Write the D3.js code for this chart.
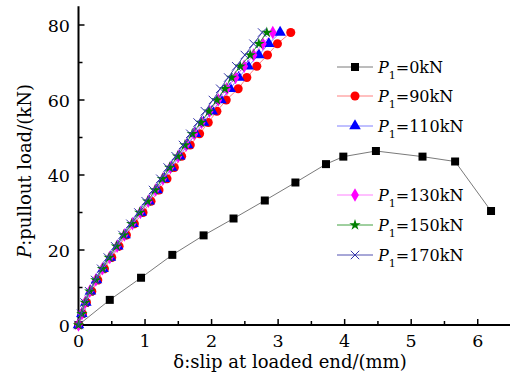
<!DOCTYPE html>
<html>
<head>
<meta charset="utf-8">
<script src="https://cdn.jsdelivr.net/npm/d3@7"></script>
<style>
body { margin: 0; background: #fff; }
</style>
</head>
<body>
<svg id="chart" width="510" height="385"></svg>
<script>
// P1 = 0kN series
const slip0 = [0, 0.47, 0.94, 1.41, 1.88, 2.33, 2.80, 3.26, 3.72, 3.98, 4.47, 5.17, 5.66, 6.20]
const load0 = [0, 6.7, 12.6, 18.7, 23.9, 28.4, 33.2, 38.0, 42.9, 44.9, 46.4, 44.9, 43.6, 30.4]

// loads shared by the other series
const loads = [0, 3, 6, 9, 12, 15, 18, 21, 24, 27, 30, 33, 36, 39, 42, 45, 48, 51, 54, 57, 60, 63, 66, 69, 72, 75, 78]
const slip90 = [0, 0.06, 0.12, 0.20, 0.29, 0.39, 0.50, 0.61, 0.72, 0.84, 0.97, 1.09, 1.21, 1.33, 1.44, 1.55, 1.68, 1.82, 1.95, 2.08, 2.22, 2.40, 2.53, 2.68, 2.84, 2.99, 3.19]
const slip110 = [0, 0.05, 0.11, 0.18, 0.27, 0.37, 0.48, 0.59, 0.70, 0.82, 0.94, 1.06, 1.18, 1.29, 1.40, 1.52, 1.64, 1.76, 1.88, 2.01, 2.14, 2.28, 2.41, 2.55, 2.71, 2.86, 3.03]
const slip130 = [0, 0.05, 0.10, 0.17, 0.26, 0.36, 0.47, 0.58, 0.69, 0.81, 0.93, 1.05, 1.16, 1.27, 1.38, 1.50, 1.62, 1.74, 1.85, 1.97, 2.10, 2.23, 2.36, 2.49, 2.63, 2.77, 2.92]
const slip150 = [0, 0.05, 0.10, 0.17, 0.26, 0.36, 0.46, 0.57, 0.68, 0.80, 0.92, 1.04, 1.15, 1.26, 1.37, 1.49, 1.60, 1.71, 1.84, 1.96, 2.08, 2.20, 2.30, 2.43, 2.58, 2.71, 2.83]
const slip170 = [0, 0.04, 0.09, 0.16, 0.25, 0.34, 0.44, 0.55, 0.66, 0.78, 0.90, 1.01, 1.12, 1.23, 1.34, 1.46, 1.57, 1.68, 1.79, 1.90, 2.02, 2.13, 2.25, 2.37, 2.50, 2.63, 2.76]

const legendLabels = ['=0kN', '=90kN', '=110kN', '=130kN', '=150kN', '=170kN']
const xTicks = [0, 1, 2, 3, 4, 5, 6]
const yTicks = [0, 20, 40, 60, 80]

// Liberation Serif isn't picked up by the renderer, DejaVu Serif is
const FONT = "'DejaVu Serif', 'Liberation Serif', serif"

const series = [
	{ xs: slip0, ys: load0, line: '#7a7a7a', fill: '#000', shape: d3.symbolSquare, size: 64 },
	{ xs: slip90, ys: loads, line: '#ff8080', fill: '#ff0000', shape: d3.symbolCircle, size: 64 },
	{ xs: slip110, ys: loads, line: '#8080ff', fill: '#0000ff', shape: d3.symbolTriangle, size: 58 },
	{ xs: slip130, ys: loads, line: '#ff80ff', fill: '#ff00ff', shape: d3.symbolDiamond, size: 52 },
	{ xs: slip150, ys: loads, line: '#40a040', fill: '#007f00', shape: d3.symbolStar, size: 40 },
	{ xs: slip170, ys: loads, line: '#5050b0', fill: 'none', stroke: '#3333aa', shape: d3.symbolTimes, size: 48 }
]

const svg = d3.select('#chart').style('font-family', FONT)
const x = d3.scaleLinear().domain([0, 6.5]).range([78.5, 511])
const y = d3.scaleLinear().domain([0, 85]).range([325, 6.25])

// axes
const xAxis = svg.append('g')
xAxis.append('line')
	.attr('x1', x(0) - 1).attr('x2', 510).attr('y1', y(0)).attr('y2', y(0))
	.attr('stroke', '#000').attr('stroke-width', 2)
xAxis.selectAll('.tk').data(d3.range(0, 6.51, 0.5)).join('line')
	.attr('x1', d => x(d)).attr('x2', d => x(d))
	.attr('y1', y(0)).attr('y2', d => y(0) - (d % 1 === 0 ? 6 : 4))
	.attr('stroke', '#000').attr('stroke-width', 1.5)
xAxis.selectAll('text').data(xTicks).join('text')
	.attr('x', d => x(d)).attr('y', 347)
	.attr('text-anchor', 'middle').style('font-size', '17.5px')
	.text(d => d)

const yAxis = svg.append('g')
yAxis.append('line')
	.attr('x1', x(0)).attr('x2', x(0)).attr('y1', y(0) + 1).attr('y2', y(85))
	.attr('stroke', '#000').attr('stroke-width', 2)
yAxis.selectAll('.tk').data(d3.range(0, 81, 10)).join('line')
	.attr('x1', x(0)).attr('x2', d => x(0) + (d % 20 === 0 ? 6 : 4))
	.attr('y1', d => y(d)).attr('y2', d => y(d))
	.attr('stroke', '#000').attr('stroke-width', 1.5)
yAxis.selectAll('text').data(yTicks).join('text')
	.attr('x', 70).attr('y', d => y(d) + 6.5)
	.attr('text-anchor', 'end').style('font-size', '17.5px')
	.text(d => d)

svg.append('text')
	.attr('x', 290).attr('y', 368)
	.attr('text-anchor', 'middle').style('font-size', '18px')
	.text('δ:slip at loaded end/(mm)')

const yTitle = svg.append('text')
	.attr('transform', 'translate(31,171) rotate(-90)')
	.attr('text-anchor', 'middle').style('font-size', '18px')
yTitle.append('tspan').style('font-style', 'italic').text('P')
yTitle.append('tspan').text(':pullout load/(kN)')

// series
const line = d3.line()
series.forEach(s => {
	const pts = s.xs.map((v, i) => [x(v), y(s.ys[i])])
	svg.append('path')
		.attr('d', line(pts))
		.attr('fill', 'none').attr('stroke', s.line).attr('stroke-width', 1)
	svg.append('g').selectAll('path').data(pts).join('path')
		.attr('transform', d => `translate(${d[0]},${d[1]})`)
		.attr('d', d3.symbol(s.shape, s.size))
		.attr('fill', s.fill)
		.attr('stroke', s.stroke || 'none')
		.attr('stroke-width', 1)
})

// legend
const legendY = [67, 96, 126, 195, 225, 255]
const legend = svg.append('g')
series.forEach((s, i) => {
	const g = legend.append('g').attr('transform', `translate(0,${legendY[i]})`)
	g.append('line').attr('x1', 337).attr('x2', 373).attr('y1', 0).attr('y2', 0)
		.attr('stroke', s.line).attr('stroke-width', 1)
	g.append('path').attr('transform', 'translate(355,0)')
		.attr('d', d3.symbol(s.shape, s.size))
		.attr('fill', s.fill).attr('stroke', s.stroke || 'none')
	const t = g.append('text').attr('x', 378).attr('y', 6).style('font-size', '16px')
	t.append('tspan').style('font-style', 'italic').text('P')
	t.append('tspan').style('font-size', '11px').attr('dy', 6).text('1')
	t.append('tspan').attr('dy', -6).text(legendLabels[i])
})
</script>
</body>
</html>
